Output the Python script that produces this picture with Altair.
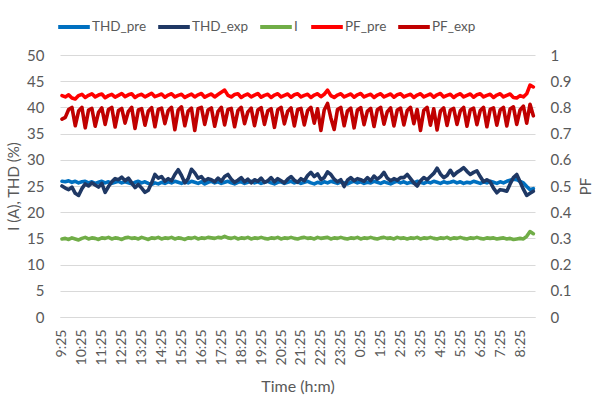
import altair as alt
import pandas as pd

# time axis: minutes after 9:25, one reading every 10 minutes
minutes = [10 * i for i in range(143)]
tick_minutes = [60 * h for h in range(24)]
tick_labels = ["9:25", "10:25", "11:25", "12:25", "13:25", "14:25", "15:25", "16:25",
               "17:25", "18:25", "19:25", "20:25", "21:25", "22:25", "23:25", "0:25",
               "1:25", "2:25", "3:25", "4:25", "5:25", "6:25", "7:25", "8:25"]

thd_pre = [
    25.9, 25.8, 26.0, 25.7, 25.9, 25.6, 25.8, 25.9, 25.6, 25.8,
    25.5, 25.7, 25.9, 25.6, 25.8, 25.5, 25.7, 25.9, 25.6, 25.8,
    25.6, 25.4, 25.7, 25.9, 25.6, 25.8, 25.5, 25.3, 25.6, 25.4,
    25.7, 25.5, 25.8, 25.6, 25.9, 25.7, 25.5, 25.8, 25.6, 25.9,
    25.7, 25.5, 25.8, 25.4, 25.7, 25.9, 25.6, 25.8, 25.5, 25.7,
    25.9, 25.6, 25.4, 25.7, 25.8, 25.5, 25.7, 25.9, 25.6, 25.8,
    25.5, 25.7, 25.9, 25.6, 25.4, 25.7, 25.8, 25.5, 25.7, 25.9,
    25.6, 25.8, 25.5, 25.7, 25.9, 25.6, 25.4, 25.7, 25.5, 25.8,
    25.6, 25.9, 25.7, 25.5, 25.8, 25.6, 25.4, 25.7, 25.9, 25.6,
    25.8, 25.5, 25.7, 25.6, 25.9, 25.7, 25.5, 25.8, 25.6, 25.4,
    25.7, 25.9, 25.6, 25.8, 25.5, 25.7, 25.6, 25.9, 25.7, 25.5,
    25.8, 25.6, 25.9, 25.7, 25.5, 25.8, 25.6, 25.7, 25.9, 25.6,
    25.8, 25.5, 25.7, 25.6, 25.9, 25.7, 25.5, 25.8, 25.6, 25.9,
    25.7, 25.5, 25.8, 25.6, 25.9, 26.1, 26.3, 26.2, 25.9, 25.6,
    24.9, 24.3, 24.5,
]

thd_exp = [
    25.0, 24.6, 24.3, 24.8, 23.6, 23.2, 24.5, 25.4, 25.0, 25.6,
    25.2, 24.8, 25.5, 23.8, 24.9, 25.8, 26.4, 26.2, 26.7, 26.0,
    26.5, 25.6, 24.7, 25.3, 24.6, 23.8, 24.2, 25.6, 27.2, 26.5,
    26.8, 25.9, 26.4, 26.0, 27.2, 28.1, 27.0, 25.6, 26.4, 28.2,
    27.5, 26.5, 26.8, 26.0, 26.4, 26.2, 25.8, 26.5, 25.9, 26.8,
    27.2, 26.3, 25.7, 26.1, 26.6, 25.8, 26.3, 25.6, 26.2, 25.9,
    26.5, 25.7, 26.0, 26.6, 25.8, 26.4, 26.0, 25.6, 26.3, 26.8,
    26.1, 25.7, 26.4, 26.0, 27.0, 27.6, 26.8, 27.3, 26.2, 26.6,
    27.7, 27.2, 26.3, 25.8, 26.2, 24.9, 26.1, 26.6, 26.0, 26.4,
    26.2, 25.9, 26.6, 26.0, 26.9, 26.3, 26.8, 27.6, 26.5, 26.0,
    26.4, 26.1, 26.6, 26.6, 27.2, 26.4, 25.6, 25.0, 26.0, 26.6,
    26.2, 26.8, 27.4, 28.4, 27.3, 26.6, 27.0, 28.0, 27.0, 27.6,
    28.0, 28.5, 27.8, 27.2, 27.6, 27.9, 26.8, 25.8, 26.2, 25.8,
    24.6, 23.7, 24.3, 24.2, 24.0, 25.4, 26.6, 27.2, 25.8, 24.4,
    23.2, 23.6, 24.0,
]

current = [
    14.9, 15.0, 14.8, 15.1, 14.9, 14.7, 15.0, 15.2, 14.9, 15.1,
    15.0, 14.8, 15.1, 15.0, 15.2, 14.9, 15.1, 15.0, 14.8, 15.1,
    15.2, 15.0, 15.1, 14.9, 15.2, 15.0, 14.8, 15.1, 15.0, 15.2,
    14.9, 15.1, 15.0, 15.2, 14.9, 15.1, 15.0, 14.8, 15.1, 15.0,
    15.2, 14.9, 15.1, 15.0, 15.2, 15.1, 15.0, 15.2, 15.1, 15.4,
    15.1, 15.0, 15.2, 14.9, 15.1, 15.0, 15.2, 14.9, 15.1, 15.0,
    15.2, 15.0, 14.9, 15.1, 15.0, 15.2, 14.9, 15.1, 15.0, 15.2,
    15.0, 14.9, 15.1, 15.2, 15.0, 15.1, 14.9, 15.2, 15.0, 15.1,
    15.2, 14.9, 15.1, 15.0, 15.2, 15.0, 14.9, 15.1, 15.0, 15.2,
    14.9, 15.1, 15.0, 15.2, 15.0, 14.9, 15.1, 15.2, 15.0, 15.1,
    14.9, 15.2, 15.0, 15.1, 14.9, 15.1, 15.0, 15.2, 14.9, 15.1,
    15.0, 15.2, 15.0, 14.9, 15.1, 15.0, 15.2, 14.9, 15.1, 15.0,
    15.2, 15.0, 14.9, 15.1, 15.0, 15.2, 15.0, 14.9, 15.1, 15.0,
    15.1, 14.9, 15.0, 15.1, 14.9, 15.0, 14.8, 14.9, 15.0, 14.9,
    15.4, 16.3, 15.9,
]

pf_pre = [
    0.845, 0.840, 0.848, 0.836, 0.832, 0.845, 0.850, 0.838, 0.846, 0.852,
    0.840, 0.847, 0.851, 0.837, 0.845, 0.850, 0.839, 0.846, 0.853, 0.841,
    0.848, 0.852, 0.838, 0.846, 0.850, 0.840, 0.847, 0.854, 0.841, 0.846,
    0.851, 0.839, 0.847, 0.852, 0.840, 0.846, 0.850, 0.838, 0.845, 0.851,
    0.840, 0.848, 0.853, 0.839, 0.846, 0.851, 0.840, 0.849, 0.858, 0.866,
    0.846, 0.840, 0.849, 0.852, 0.838, 0.846, 0.851, 0.840, 0.847, 0.853,
    0.839, 0.846, 0.850, 0.838, 0.847, 0.852, 0.840, 0.846, 0.851, 0.839,
    0.848, 0.852, 0.840, 0.846, 0.850, 0.838, 0.847, 0.852, 0.841, 0.850,
    0.866, 0.845, 0.838, 0.847, 0.852, 0.840, 0.846, 0.851, 0.839, 0.848,
    0.853, 0.840, 0.846, 0.850, 0.838, 0.847, 0.852, 0.840, 0.846, 0.851,
    0.839, 0.848, 0.852, 0.840, 0.846, 0.850, 0.838, 0.847, 0.852, 0.840,
    0.846, 0.851, 0.839, 0.848, 0.853, 0.840, 0.846, 0.850, 0.838, 0.847,
    0.852, 0.840, 0.846, 0.851, 0.839, 0.848, 0.852, 0.840, 0.846, 0.850,
    0.838, 0.847, 0.852, 0.840, 0.846, 0.851, 0.838, 0.836, 0.845, 0.840,
    0.852, 0.885, 0.878,
]

pf_exp = [
    0.755, 0.762, 0.792, 0.800, 0.730, 0.786, 0.800, 0.722, 0.790, 0.796,
    0.728, 0.781, 0.798, 0.735, 0.792, 0.800, 0.725, 0.788, 0.796, 0.740,
    0.785, 0.800, 0.720, 0.790, 0.795, 0.732, 0.786, 0.799, 0.726, 0.792,
    0.797, 0.738, 0.788, 0.800, 0.715, 0.790, 0.802, 0.730, 0.786, 0.797,
    0.712, 0.795, 0.800, 0.735, 0.790, 0.798, 0.728, 0.785, 0.800, 0.733,
    0.792, 0.796, 0.726, 0.788, 0.800, 0.738, 0.783, 0.797, 0.730, 0.790,
    0.799, 0.735, 0.787, 0.795, 0.724, 0.791, 0.800, 0.737, 0.785, 0.798,
    0.729, 0.792, 0.796, 0.733, 0.788, 0.800, 0.740, 0.795, 0.712, 0.790,
    0.815, 0.760, 0.716, 0.792, 0.800, 0.730, 0.787, 0.797, 0.722, 0.790,
    0.799, 0.734, 0.786, 0.796, 0.727, 0.791, 0.800, 0.736, 0.784, 0.798,
    0.729, 0.790, 0.797, 0.733, 0.788, 0.800, 0.738, 0.792, 0.712, 0.789,
    0.800, 0.732, 0.795, 0.714, 0.786, 0.798, 0.731, 0.790, 0.796, 0.735,
    0.787, 0.800, 0.728, 0.791, 0.797, 0.734, 0.788, 0.800, 0.726, 0.792,
    0.798, 0.732, 0.790, 0.800, 0.729, 0.794, 0.802, 0.735, 0.790, 0.805,
    0.740, 0.812, 0.768,
]

series_names = ["THD_pre", "THD_exp", "I", "PF_pre", "PF_exp"]
series_colors = ["#0070C0", "#1F3864", "#70AD47", "#FF0000", "#C00000"]

def long_df(pairs):
    rows = []
    for name, vals in pairs:
        for k, (m, v) in enumerate(zip(minutes, vals)):
            rows.append({"t": m, "series": name, "v": v, "k": k})
    return pd.DataFrame(rows)

left_df = long_df([("THD_pre", thd_pre), ("THD_exp", thd_exp), ("I", current)])
right_df = long_df([("PF_pre", pf_pre), ("PF_exp", pf_exp)])

FONT = "Lato"
GREY = "#595959"
LW = 3.6

label_js = "[" + ",".join("'%s'" % s for s in tick_labels) + "]"

x_enc = alt.X(
    "t:Q",
    scale=alt.Scale(domain=[-6, 1425], nice=False, zero=False),
    axis=alt.Axis(
        values=tick_minutes,
        labelExpr=label_js + "[round(datum.value / 60)]",
        labelAngle=270,
        labelAlign="right",
        labelBaseline="middle",
        labelFont=FONT,
        labelFontSize=14,
        labelColor=GREY,
        labelPadding=12,
        labelOverlap=False,
        ticks=False,
        grid=False,
        domainColor="#D9D9D9",
        domainWidth=1,
        title="Time (h:m)",
        titleFont=FONT,
        titleFontSize=16,
        titleFontWeight="normal",
        titleColor=GREY,
        titlePadding=14,
    ),
)

color_enc = alt.Color(
    "series:N",
    scale=alt.Scale(domain=series_names, range=series_colors),
    legend=alt.Legend(
        orient="none",
        legendX=-4,
        legendY=-46,
        direction="horizontal",
        title=None,
        symbolType="stroke",
        symbolSize=1000,
        symbolStrokeWidth=4,
        labelFont=FONT,
        labelFontSize=13.5,
        labelColor=GREY,
        labelOffset=0,
        columnPadding=3,
    ),
)

left = alt.Chart(left_df).mark_line(strokeWidth=LW, strokeJoin="round", strokeCap="round").encode(
    x=x_enc,
    y=alt.Y(
        "v:Q",
        scale=alt.Scale(domain=[0, 50], nice=False),
        axis=alt.Axis(
            orient="left",
            values=[0, 5, 10, 15, 20, 25, 30, 35, 40, 45, 50],
            grid=True,
            gridColor="#D9D9D9",
            gridWidth=1,
            domain=False,
            ticks=False,
            labelFont=FONT,
            labelFontSize=15,
            labelColor=GREY,
            labelPadding=16,
            title="I (A), THD (%)",
            titleFont=FONT,
            titleFontSize=15,
            titleFontWeight="normal",
            titleColor=GREY,
            titleAngle=270,
            titleAlign="center",
            titleBaseline="middle",
            titleX=-47,
            titleY=131,
        ),
    ),
    color=color_enc,
    detail="series:N",
    order="k:Q",
)

right = alt.Chart(right_df).mark_line(strokeWidth=LW, strokeJoin="round", strokeCap="round").encode(
    x=x_enc,
    y=alt.Y(
        "v:Q",
        scale=alt.Scale(domain=[0, 1], nice=False),
        axis=alt.Axis(
            orient="right",
            values=[0, 0.1, 0.2, 0.3, 0.4, 0.5, 0.6, 0.7, 0.8, 0.9, 1],
            format="~g",
            grid=False,
            domain=False,
            ticks=False,
            labelFont=FONT,
            labelFontSize=15,
            labelColor=GREY,
            labelPadding=15,
            title="PF",
            titleFont=FONT,
            titleFontSize=15,
            titleFontWeight="normal",
            titleColor=GREY,
            titleAngle=270,
            titleAlign="center",
            titleBaseline="middle",
            titleX=50,
            titleY=131,
        ),
    ),
    color=color_enc,
    detail="series:N",
    order="k:Q",
)

chart = (
    alt.layer(left, right)
    .resolve_scale(y="independent")
    .properties(
        width=475,
        height=262,
        autosize=alt.AutoSizeParams(type="none"),
        padding={"left": 60, "top": 55, "right": 60, "bottom": 86},
        background="white",
    )
    .configure_view(stroke=None)
)

chart.save("out.html", embed_options={"renderer": "svg", "actions": False})
